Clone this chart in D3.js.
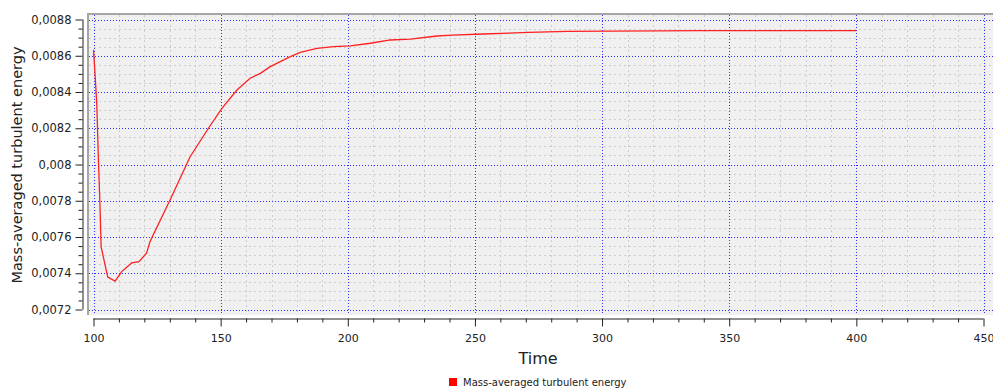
<!DOCTYPE html>
<html>
<head>
<meta charset="utf-8">
<script src="https://cdn.jsdelivr.net/npm/d3@7"></script>
<style>
  html, body { margin: 0; padding: 0; background: #ffffff; }
  svg { display: block; }
  text { font-family: "DejaVu Sans", sans-serif; fill: #222; }
</style>
</head>
<body>
<svg id="chart" width="993" height="391"></svg>
<script>
// Mass-averaged turbulent energy against time
const times = [100, 100.7, 101.3, 101.9, 102.6, 103.0, 105.6, 108.5, 111.1, 115, 117.9, 120.9,
  122.2, 130.1, 138.0, 145.2, 150.5, 156.4, 161.6, 165.6, 169.5, 177.4, 181.3, 187.9, 194.4,
  201.0, 208.9, 216.7, 224.6, 235.1, 241.0, 253.2, 271.2, 286.3, 338.8, 400];
const energy = [0.008632, 0.008477, 0.008328, 0.008041, 0.007749, 0.007545, 0.007379, 0.007357,
  0.007409, 0.007457, 0.007464, 0.007512,
  0.007574, 0.007804, 0.008043, 0.008200, 0.008310, 0.008411, 0.008476, 0.008503, 0.008540,
  0.008595, 0.008619, 0.008641, 0.008650, 0.008655, 0.008669, 0.008687, 0.008692, 0.008709,
  0.008714, 0.008720, 0.008729, 0.008735, 0.008739, 0.008739];

const xTicks = [100, 150, 200, 250, 300, 350, 400, 450];
const xTickLabels = ["100", "150", "200", "250", "300", "350", "400", "450"];
const yTicks = [0.0072, 0.0074, 0.0076, 0.0078, 0.008, 0.0082, 0.0084, 0.0086, 0.0088];
const yTickLabels = ["0,0072", "0,0074", "0,0076", "0,0078", "0,008", "0,0082", "0,0084", "0,0086", "0,0088"];
const seriesName = "Mass-averaged turbulent energy";
const xTitle = "Time";
const yTitle = "Mass-averaged turbulent energy";

const svg = d3.select("#chart");

const x = d3.scaleLinear().domain([100, 450]).range([93.5, 983.5]);
const y = d3.scaleLinear().domain([0.0072, 0.0088]).range([309.5, 19.5]);

const xMinor = d3.range(100, 451, 10).filter(v => v % 50 !== 0);
const yMinor = d3.range(0, 33).map(i => 0.0072 + i * 0.00005)
  .filter((v, i) => i % 4 !== 0);

// plot panel
svg.append("rect")
  .attr("x", 87).attr("y", 13).attr("width", 910).attr("height", 302)
  .attr("fill", "#f0f0f0");
svg.append("rect").attr("x", 87).attr("y", 13).attr("width", 910).attr("height", 2).attr("fill", "#a6a6a6");
svg.append("rect").attr("x", 87).attr("y", 13).attr("width", 2).attr("height", 302).attr("fill", "#a6a6a6");

// grid lines
const grid = svg.append("g");
grid.selectAll(".gxm").data(xMinor).join("line")
  .attr("x1", d => Math.round(x(d)) + 0.5).attr("x2", d => Math.round(x(d)) + 0.5)
  .attr("y1", 15).attr("y2", 315)
  .attr("stroke", "#cdcdcd").attr("stroke-dasharray", "2,3");
grid.selectAll(".gym").data(yMinor).join("line")
  .attr("y1", d => Math.round(y(d)) + 0.5).attr("y2", d => Math.round(y(d)) + 0.5)
  .attr("x1", 89).attr("x2", 993)
  .attr("stroke", "#cdcdcd").attr("stroke-dasharray", "2,3");
grid.selectAll(".gxM").data(xTicks).join("line")
  .attr("x1", d => Math.round(x(d)) + 0.5).attr("x2", d => Math.round(x(d)) + 0.5)
  .attr("y1", 15).attr("y2", 315)
  .attr("stroke", "#3030ff").attr("stroke-dasharray", "1,2");
grid.selectAll(".gyM").data(yTicks).join("line")
  .attr("y1", d => Math.round(y(d)) + 0.5).attr("y2", d => Math.round(y(d)) + 0.5)
  .attr("x1", 89).attr("x2", 993)
  .attr("stroke", "#3030ff").attr("stroke-dasharray", "1,2");

// series
const data = times.map((t, i) => ({ t, v: energy[i] }));
svg.append("path")
  .datum(data)
  .attr("fill", "none")
  .attr("stroke", "#ff2020")
  .attr("stroke-width", 1.3)
  .attr("d", d3.line().x(d => x(d.t)).y(d => y(d.v)));

// axes
const axisY = 82.5;
const gY = svg.append("g").attr("transform", `translate(${axisY},0)`);
gY.call(d3.axisLeft(y).tickValues(yMinor).tickSize(4).tickFormat(""))
  .call(g => g.select(".domain").remove());
gY.append("g").call(d3.axisLeft(y).tickValues(yTicks).tickSize(7).tickPadding(4)
  .tickFormat((d, i) => yTickLabels[i]))
  .call(g => g.select(".domain").attr("d", `M0.5,${y(0.0088)}V${y(0.0072)}`));
gY.selectAll("line").attr("stroke", "#222");
gY.selectAll(".domain").attr("stroke", "#222");
gY.selectAll("text").style("font-size", "11.5px").style("fill", "#222");

const axisX = 318.5;
const gX = svg.append("g").attr("transform", `translate(0,${axisX})`);
gX.call(d3.axisBottom(x).tickValues(xMinor).tickSize(4).tickFormat(""))
  .call(g => g.select(".domain").remove());
gX.append("g").call(d3.axisBottom(x).tickValues(xTicks).tickSize(8).tickPadding(8)
  .tickFormat((d, i) => xTickLabels[i]))
  .call(g => g.select(".domain").attr("d", `M${x(100)},0.5H${x(450)}`));
gX.selectAll("line").attr("stroke", "#222");
gX.selectAll(".domain").attr("stroke", "#222");
gX.selectAll("text").style("font-size", "11px").style("fill", "#222");
// keep the last label inside the window edge
gX.selectAll("text").filter(d => d === 450).attr("text-anchor", "end").attr("dx", "10.5");

// axis titles
svg.append("text")
  .attr("x", 538).attr("y", 364)
  .attr("text-anchor", "middle")
  .style("font-size", "16px")
  .text(xTitle);
svg.append("text")
  .attr("transform", "translate(22,165) rotate(-90)")
  .attr("text-anchor", "middle")
  .style("font-size", "14.5px")
  .text(yTitle);

// legend
svg.append("rect")
  .attr("x", 449).attr("y", 378).attr("width", 8).attr("height", 8)
  .attr("fill", "#ff0000");
svg.append("text")
  .attr("x", 463).attr("y", 386)
  .style("font-size", "10px")
  .text(seriesName);
</script>
</body>
</html>
